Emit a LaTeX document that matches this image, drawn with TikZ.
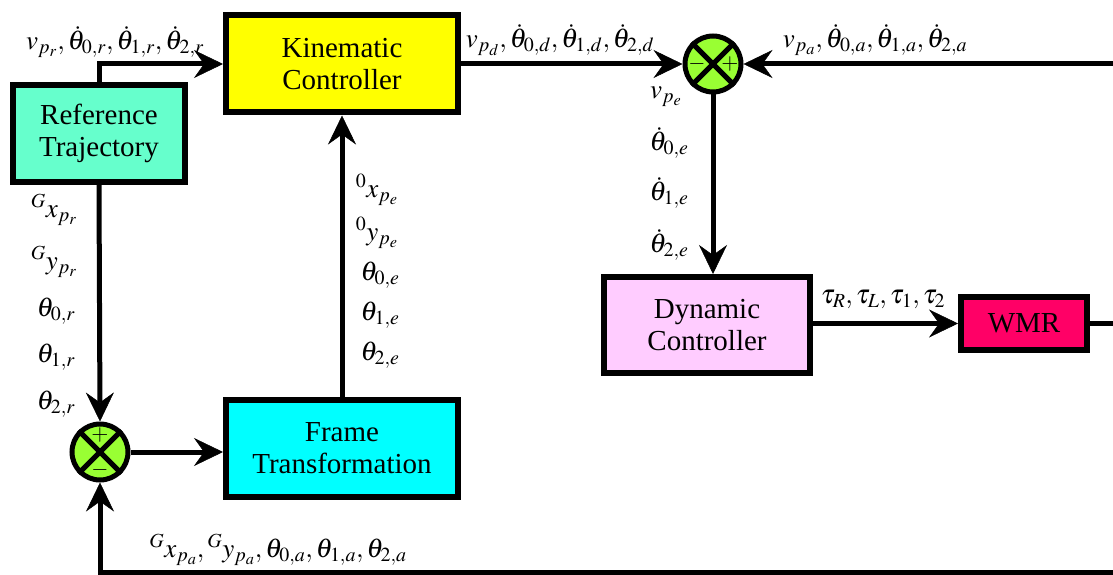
\documentclass[tikz,border=0pt]{standalone}
\usepackage{mathptmx}
\usepackage{fontspec}
\setmainfont{Liberation Serif}
\usetikzlibrary{arrows.meta}
\definecolor{rtcol}{HTML}{66FFCC}
\definecolor{kccol}{HTML}{FFFF00}
\definecolor{ftcol}{HTML}{00FFFF}
\definecolor{dccol}{HTML}{FFCCFF}
\definecolor{wmrcol}{HTML}{FF0066}
\definecolor{sumcol}{HTML}{99FF33}
\begin{document}
\begin{tikzpicture}[x=1pt,y=-1pt,
  blk/.style={draw=black, line width=6pt, font=\fontsize{29}{32}\selectfont, align=center, inner sep=0pt},
  sumj/.style={circle, draw=black, line width=5pt, fill=sumcol, minimum size=56pt, inner sep=0pt},
  conn/.style={line width=5pt, -{Stealth[length=29pt,width=28pt,inset=10pt,line width=0.5pt]}},
  plainline/.style={line width=5pt},
  lbl/.style={font=\fontsize{27}{30}\selectfont, inner sep=0pt},
  sgn/.style={font=\fontsize{22}{22}\selectfont, inner sep=0pt}]
\useasboundingbox (0,0) rectangle (1113,575);
\fill[white] (0,0) rectangle (1113,575);

% blocks
\node[blk, fill=rtcol, minimum width=172pt, minimum height=97pt] (rt) at (99,133.5) {Reference\\Trajectory};
\node[blk, fill=kccol, minimum width=232pt, minimum height=97pt] (kc) at (342,64) {Kinematic\\Controller};
\node[blk, fill=ftcol, minimum width=232pt, minimum height=97pt] (ft) at (342,448.5) {Frame\\Transformation};
\node[blk, fill=dccol, minimum width=206pt, minimum height=96pt] (dc) at (707,325) {Dynamic\\Controller};
\node[blk, fill=wmrcol, minimum width=126pt, minimum height=53pt] (wmr) at (1024,323.5) {WMR};

% summing junctions
\node[sumj] (s1) at (713,64) {};
\draw[line width=5pt] (s1.north west) -- (s1.south east) (s1.north east) -- (s1.south west);
\node[sgn] (s1m) at (697,64) {$-$};
\node[sgn] (s1p) at (730,64) {$+$};

\node[sumj] (s2) at (100,452) {};
\draw[line width=5pt] (s2.north west) -- (s2.south east) (s2.north east) -- (s2.south west);
\node[sgn] (s2p) at (100,435) {$+$};
\node[sgn] (s2m) at (100,470) {$-$};

% free ends
\coordinate (rin) at (1116,64);
\coordinate (rout) at (1116,323.5);
\coordinate (bcorner) at (1116,572);
\coordinate (bleft) at (100,572);

% connectors
\draw[conn] (rt.north) |- (kc.west);
\draw[conn] (kc.east) -- (s1.west);
\draw[conn] (rin) -- (s1.east);
\draw[conn] (s1.south) -- (s1.south |- dc.north);
\draw[conn] (dc.east |- wmr.west) -- (wmr.west);
\draw[plainline] (wmr.east) -- (rout);
\draw[conn] (rt.south) -- (s2.north);
\draw[conn] (s2.east) -- (s2.east -| ft.west);
\draw[conn] (ft.north) -- (kc.south);
\draw[conn] (bcorner) -- (bleft) -- (s2.south);

% labels
\node[lbl] (l1) at (115,42) {$v_{p_r},\dot\theta_{0,r},\dot\theta_{1,r},\dot\theta_{2,r}$};
\node[lbl] (l2) at (560,40) {$v_{p_d},\dot\theta_{0,d},\dot\theta_{1,d},\dot\theta_{2,d}$};
\node[lbl] (l3) at (875,40) {$v_{p_a},\dot\theta_{0,a},\dot\theta_{1,a},\dot\theta_{2,a}$};

\node[lbl] (a1) at (54,210) {${}^{G}x_{p_r}$};
\node[lbl] (a2) at (54,262) {${}^{G}y_{p_r}$};
\node[lbl] (a3) at (56,311) {$\theta_{0,r}$};
\node[lbl] (a4) at (56,357) {$\theta_{1,r}$};
\node[lbl] (a5) at (56,404) {$\theta_{2,r}$};

\node[lbl] (b1) at (377,190) {${}^{0}x_{p_e}$};
\node[lbl] (b2) at (377,233) {${}^{0}y_{p_e}$};
\node[lbl] (b3) at (380,275) {$\theta_{0,e}$};
\node[lbl] (b4) at (380,315) {$\theta_{1,e}$};
\node[lbl] (b5) at (380,355) {$\theta_{2,e}$};

\node[lbl] (c1) at (666,97) {$v_{p_e}$};
\node[lbl] (c2) at (669,143) {$\dot\theta_{0,e}$};
\node[lbl] (c3) at (669,193) {$\dot\theta_{1,e}$};
\node[lbl] (c4) at (669,245) {$\dot\theta_{2,e}$};

\node[lbl] (t1) at (883,299) {$\tau_R,\tau_L,\tau_1,\tau_2$};
\node[lbl] (g1) at (278,550) {${}^{G}x_{p_a},{}^{G}y_{p_a},\theta_{0,a},\theta_{1,a},\theta_{2,a}$};
\end{tikzpicture}
\end{document}
